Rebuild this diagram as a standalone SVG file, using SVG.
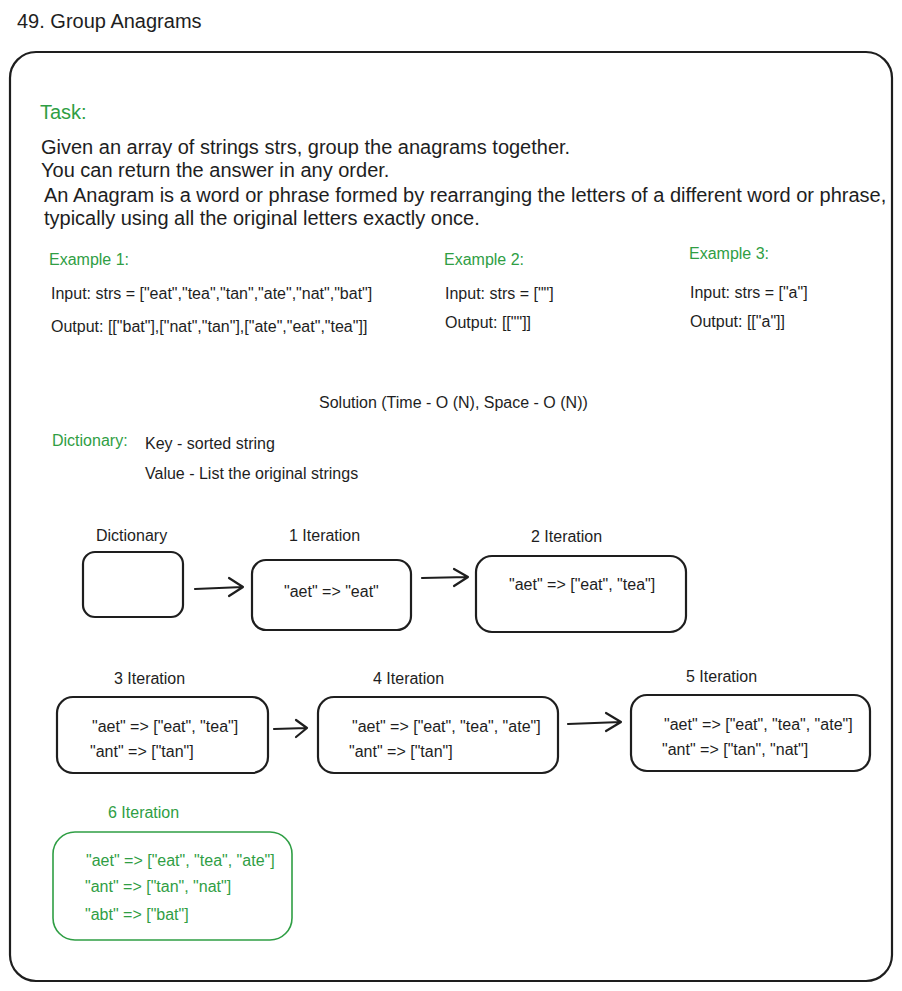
<svg xmlns="http://www.w3.org/2000/svg" width="902" height="991" viewBox="0 0 902 991">
<style>
text{font-family:"Liberation Sans",Arial,sans-serif;fill:#1e1e1e}
.g{fill:#2f9e44}
.big{font-size:20px}
.m{font-size:16px}
.box{fill:none;stroke:#1e1e1e;stroke-width:2.2}
.gbox{fill:none;stroke:#2f9e44;stroke-width:1.6}
.arr{fill:none;stroke:#1e1e1e;stroke-width:2.2;stroke-linecap:round;stroke-linejoin:round}
</style>
<rect width="902" height="991" fill="#ffffff"/>
<text x="17" y="28" font-size="20">49. Group Anagrams</text>
<g id="frame"><rect x="10" y="52" width="882" height="929" rx="26" class="box"/></g>
<g id="task">
<text x="40" y="119" class="big g">Task:</text>
<text x="41" y="154" class="big">Given an array of strings strs, group the anagrams together.</text>
<text x="41" y="177" class="big">You can return the answer in any order.</text>
<text x="44" y="202" class="big">An Anagram is a word or phrase formed by rearranging the letters of a different word or phrase,</text>
<text x="44" y="225" class="big">typically using all the original letters exactly once.</text>
</g>
<g id="examples">
<text x="49" y="265" class="m g">Example 1:</text>
<text x="51" y="299" class="m">Input: strs = ["eat","tea","tan","ate","nat","bat"]</text>
<text x="51" y="332" class="m">Output: [["bat"],["nat","tan"],["ate","eat","tea"]]</text>
<text x="444" y="265" class="m g">Example 2:</text>
<text x="445" y="299" class="m">Input: strs = [""]</text>
<text x="445" y="328" class="m">Output: [[""]]</text>
<text x="689" y="259" class="m g">Example 3:</text>
<text x="690" y="298" class="m">Input: strs = ["a"]</text>
<text x="690" y="327" class="m">Output: [["a"]]</text>
</g>
<g id="solution">
<text x="319" y="408" class="m">Solution (Time - O (N), Space - O (N))</text>
<text x="52" y="446" class="m g">Dictionary:</text>
<text x="145" y="449" class="m">Key - sorted string</text>
<text x="145" y="479" class="m">Value - List the original strings</text>
</g>
<g id="dict">
<text x="96" y="541" class="m">Dictionary</text>
<rect x="83" y="552" width="100" height="65" rx="12" class="box"/>
</g>
<g id="it1">
<text x="289" y="541" class="m">1 Iteration</text>
<rect x="252" y="560" width="159" height="70" rx="14" class="box"/>
<text x="284" y="597" class="m">"aet" =&gt; "eat"</text>
</g>
<g id="it2">
<text x="531" y="542" class="m">2 Iteration</text>
<rect x="476" y="556" width="210" height="76" rx="16" class="box"/>
<text x="509" y="590" class="m">"aet" =&gt; ["eat", "tea"]</text>
</g>
<g id="it3">
<text x="114" y="684" class="m">3 Iteration</text>
<rect x="57" y="697" width="211" height="76" rx="16" class="box"/>
<text x="92" y="732" class="m">"aet" =&gt; ["eat", "tea"]</text>
<text x="90" y="757" class="m">"ant" =&gt; ["tan"]</text>
</g>
<g id="it4">
<text x="373" y="684" class="m">4 Iteration</text>
<rect x="318" y="697" width="240" height="76" rx="16" class="box"/>
<text x="352" y="732" class="m">"aet" =&gt; ["eat", "tea", "ate"]</text>
<text x="349" y="757" class="m">"ant" =&gt; ["tan"]</text>
</g>
<g id="it5">
<text x="686" y="682" class="m">5 Iteration</text>
<rect x="631" y="695" width="239" height="76" rx="16" class="box"/>
<text x="664" y="730" class="m">"aet" =&gt; ["eat", "tea", "ate"]</text>
<text x="662" y="755" class="m">"ant" =&gt; ["tan", "nat"]</text>
</g>
<g id="it6">
<text x="108" y="818" class="m g">6 Iteration</text>
<rect x="53" y="832" width="239" height="108" rx="22" class="gbox"/>
<text x="86" y="866" class="m g">"aet" =&gt; ["eat", "tea", "ate"]</text>
<text x="85" y="892" class="m g">"ant" =&gt; ["tan", "nat"]</text>
<text x="85" y="920" class="m g">"abt" =&gt; ["bat"]</text>
</g>
<g id="connectors">
<path d="M195 589 L243 587 M229 578 L243 587 L229 596" class="arr"/>
<path d="M422 578 L468 577 M454 569 L468 577 L454 586" class="arr"/>
<path d="M274 729 L307 728 M296 720 L307 728 L296 737" class="arr"/>
<path d="M568 724 L621 722 M606 713 L621 722 L606 731" class="arr"/>
</g>
</svg>
